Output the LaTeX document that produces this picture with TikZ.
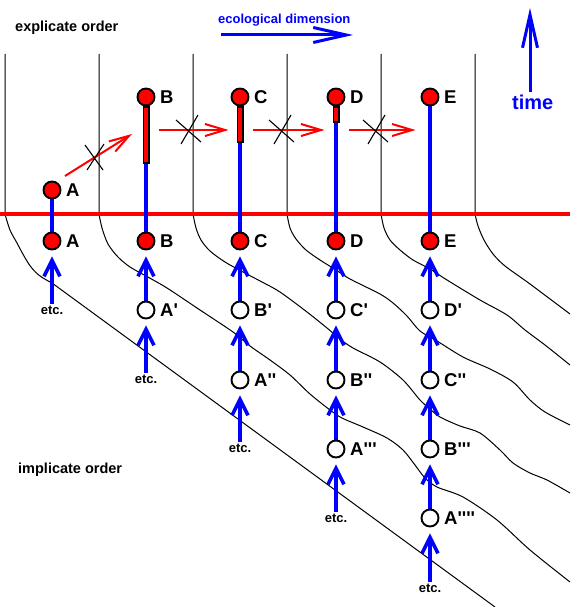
\documentclass[tikz,border=0pt]{standalone}
\usepackage{fontspec}
\setmainfont{Liberation Sans}
\usepackage{tikz}
\usetikzlibrary{arrows.meta, backgrounds}

\newcommand{\pq}{\textquotesingle}

\begin{document}
\begin{tikzpicture}[x=1pt, y=-1pt,
    blob/.style={circle, draw=black, line width=1.9pt, minimum size=17pt, inner sep=0pt, fill=white},
    hot/.style={blob, fill=red},
    bar/.style={draw=black, fill=red, line width=1.5pt, minimum width=5.5pt, inner sep=0pt, anchor=north},
    stem/.style={blue, line width=3.5pt},
    flow/.style={stem, -{Straight Barb[length=16pt, width=16pt]}, shorten >=6pt},
    jump/.style={red, line width=2pt, -{Straight Barb[length=20pt, width=12pt]}},
    dimarrow/.style={blue, line width=3pt, -{Straight Barb[length=33pt, width=15pt]}},
    fold/.style={black, line width=1pt},
    nogo/.style={black, line width=1.1pt},
    tag/.style={font=\fontsize{14.5}{16}\selectfont\bfseries, anchor=base west, inner sep=0pt},
    etc/.style={font=\fontsize{13}{15}\selectfont\bfseries, inner sep=1.5pt},
    every label/.style={font=\fontsize{18.5}{20}\selectfont\bfseries, inner sep=0pt},
    label distance=4.5pt]

    \useasboundingbox (0,0) rectangle (570,607);

    % headings
    \node[tag] (expl) at (15,31.5) {explicate order};
    \node[tag] (impl) at (18,473) {implicate order};
    \node[tag, text=blue, font=\fontsize{13}{15}\selectfont\bfseries] (eco) at (218,24) {ecological dimension};
    \node[tag, text=blue, font=\fontsize{20}{22}\selectfont\bfseries] (time) at (512,109.5) {time};

    % dimension arrows
    \coordinate (ecoStart) at (221,35);
    \coordinate (ecoEnd) at (353,35);
    \coordinate (timeTop) at (530,8);
    \draw[dimarrow] (ecoStart) -- (ecoEnd);
    \draw[dimarrow] ([yshift=3pt]timeTop |- time.north) -- (timeTop);

    % explicate order, above the red line
    \node[hot, label=right:A] (eA) at (52,190) {};
    \node[hot, label=right:B] (eB) at (146,97) {};
    \node[hot, label=right:C] (eC) at (240,97) {};
    \node[hot, label=right:D] (eD) at (336,97) {};
    \node[hot, label=right:E] (eE) at (430,97) {};
    \node[bar, minimum height=56pt] (barB) at (eB.south) {};
    \node[bar, minimum height=35pt] (barC) at (eC.south) {};
    \node[bar, minimum height=15pt] (barD) at (eD.south) {};

    % implicate order, below the red line
    \node[hot, label=right:A] (iA) at (52,241) {};
    \node[hot, label=right:B] (iB) at (146,241) {};
    \node[hot, label=right:C] (iC) at (240,241) {};
    \node[hot, label=right:D] (iD) at (336,241) {};
    \node[hot, label=right:E] (iE) at (430,241) {};
    \node[blob, label=right:{A\pq}] (iA1) at (146,310) {};
    \node[blob, label=right:{B\pq}] (iB1) at (240,310) {};
    \node[blob, label=right:{C\pq}] (iC1) at (336,310) {};
    \node[blob, label=right:{D\pq}] (iD1) at (430,310) {};
    \node[blob, label=right:{A\pq\pq}] (iA2) at (240,380) {};
    \node[blob, label=right:{B\pq\pq}] (iB2) at (336,380) {};
    \node[blob, label=right:{C\pq\pq}] (iC2) at (430,380) {};
    \node[blob, label=right:{A\pq\pq\pq}] (iA3) at (336,449) {};
    \node[blob, label=right:{B\pq\pq\pq}] (iB3) at (430,449) {};
    \node[blob, label=right:{A\pq\pq\pq\pq}] (iA4) at (430,518) {};

    \node[etc] (etcA) at (52,310) {etc.};
    \node[etc] (etcB) at (146,379) {etc.};
    \node[etc] (etcC) at (240,448) {etc.};
    \node[etc] (etcD) at (336,518) {etc.};
    \node[etc] (etcE) at (430,588) {etc.};

    \begin{scope}[on background layer]
      % folds: column borders running into the implicate order
      \draw[fold] (5,54) -- plot[smooth, tension=0.6] coordinates {(5,214) (10,230) (17,243) (24,256) (31,267) (40,276) (52,283)} -- (495,607);
      \draw[fold] (99,54) -- plot[smooth, tension=0.5] coordinates {(99,214) (102,228) (108,244) (118,257) (130,267) (146,276) (167,288) (200,310) (233,332) (250,346) (270,360) (290,375) (310,394) (330,410) (342,418) (363,427) (387,438) (403,450) (415,465) (425,478) (437,487) (463,497) (497,520) (530,550) (570,582)};
      \draw[fold] (193,54) -- plot[smooth, tension=0.5] coordinates {(193,214) (196,228) (201,240) (210,251) (225,262) (243,272) (262,282) (280,292) (307,312) (327,328) (340,339) (353,348) (380,362) (403,380) (420,400) (430,409) (440,417) (460,426) (480,433) (500,450) (513,463) (530,473) (547,480) (570,493)};
      \draw[fold] (287,54) -- plot[smooth, tension=0.5] coordinates {(287,214) (290,228) (296,239) (306,250) (320,260) (336,270) (350,279) (380,294) (393,303) (407,316) (420,331) (437,341) (463,357) (490,369) (513,382) (530,400) (545,412) (570,425)};
      \draw[fold] (381,54) -- plot[smooth, tension=0.5] coordinates {(381,214) (384,228) (390,240) (400,250) (413,260) (430,269) (447,280) (480,300) (507,315) (525,330) (545,345) (570,365)};
      \draw[fold] (475,54) -- plot[smooth, tension=0.5] coordinates {(475,214) (478,226) (484,240) (493,254) (505,266) (530,284) (570,314)};

      % the present
      \draw[red, line width=4pt] (0,214) -- (570,214);

      % time lines
      \draw[stem] (eA) -- (iA);
      \draw[stem] (barB) -- (iB);
      \draw[stem] (barC) -- (iC);
      \draw[stem] (barD) -- (iD);
      \draw[stem] (eE) -- (iE);
      \draw[flow] (etcA) -- (iA);
      \draw[flow] (etcB) -- (iA1);
      \draw[flow] (iA1) -- (iB);
      \draw[flow] (etcC) -- (iA2);
      \draw[flow] (iA2) -- (iB1);
      \draw[flow] (iB1) -- (iC);
      \draw[flow] (etcD) -- (iA3);
      \draw[flow] (iA3) -- (iB2);
      \draw[flow] (iB2) -- (iC1);
      \draw[flow] (iC1) -- (iD);
      \draw[flow] (etcE) -- (iA4);
      \draw[flow] (iA4) -- (iB3);
      \draw[flow] (iB3) -- (iC2);
      \draw[flow] (iC2) -- (iD1);
      \draw[flow] (iD1) -- (iE);
    \end{scope}

    % blocked steps along the ecological dimension
    \coordinate (lvl) at (0,130);
    \coordinate (jumpA) at (65,176);
    \coordinate (jumpB) at (132,134);
    \draw[jump] (jumpA) -- (jumpB);
    \draw[jump, shorten <=9pt, shorten >=8pt] (barB.east |- lvl) -- (barC.west |- lvl);
    \draw[jump, shorten <=9pt, shorten >=8pt] (barC.east |- lvl) -- (barD.west |- lvl);
    \draw[jump, shorten <=9pt, shorten >=5pt] (barD.east |- lvl) -- (eE.west |- lvl);

    \draw[nogo] (85,145) -- (103,170) (87,170) -- (104,144);
    \foreach \cx in {190,283,377}
      \draw[nogo] (\cx-14,120) -- (\cx+11,142) (\cx-9,144) -- (\cx+8,115);

\end{tikzpicture}
\end{document}
